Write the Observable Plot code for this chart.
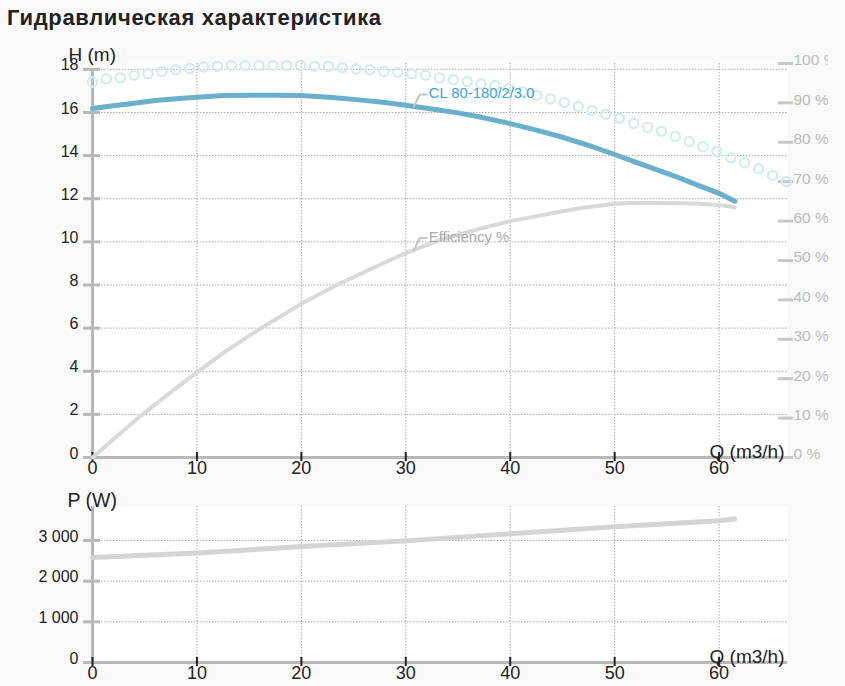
<!DOCTYPE html>
<html>
<head>
<meta charset="utf-8">
<script src="https://cdn.jsdelivr.net/npm/d3@7"></script>
<script src="https://cdn.jsdelivr.net/npm/@observablehq/plot@0.6"></script>
<style>
  html, body { margin: 0; padding: 0; background: #f9f9f9; }
  #wrap { position: relative; width: 845px; height: 686px; overflow: hidden; font-family: "Liberation Sans", Arial, sans-serif; }
  #title { position: absolute; left: 7px; top: 7px; font-size: 22px; line-height: 22px; letter-spacing: 0.65px; font-weight: bold; color: #222; white-space: nowrap; }
  #top { position: absolute; left: 0; top: 30px; }
  #bottom { position: absolute; left: 0; top: 485px; }
</style>
</head>
<body>
<div id="wrap">
  <div id="title">Гидравлическая характеристика</div>
  <div id="top"></div>
  <div id="bottom"></div>
</div>
<script>
// ---- Data ----
// Pump head curve (H, m) vs flow (Q, m3/h)
const headQ = [0, 2, 4, 6, 8, 10, 12.5, 15, 18, 20, 23, 26, 28, 30, 33, 35, 37, 40, 42.5, 45, 47.5, 50, 52, 54, 56, 58, 60, 61.5];
const headH = [16.18, 16.31, 16.43, 16.55, 16.64, 16.71, 16.79, 16.80, 16.80, 16.79, 16.69, 16.56, 16.46, 16.33, 16.13, 15.98, 15.80, 15.48, 15.18, 14.85, 14.47, 14.05, 13.70, 13.35, 13.00, 12.62, 12.25, 11.88];

// Efficiency curve (%)
const effQ = [0, 3, 5, 8, 10, 12.5, 16, 20, 23.5, 27, 30, 33.5, 37, 40, 45, 47, 50, 52, 54, 56.5, 58, 60, 61.5];
const effPct = [0, 6.9, 11.4, 17.6, 21.6, 26.5, 32.6, 39.0, 43.9, 48.3, 51.9, 55.4, 58.0, 60.0, 62.5, 63.4, 64.4, 64.6, 64.6, 64.5, 64.4, 64.1, 63.5];

// Dotted (circle) curve, % scale
const dotQ = [0, 1.33, 2.66, 3.99, 5.31, 6.64, 7.97, 9.30, 10.63, 11.96, 13.29, 14.62, 15.94, 17.27, 18.60, 19.93, 21.26, 22.59, 23.92, 25.25, 26.57, 27.90, 29.23, 30.56, 31.89, 33.22, 34.55, 35.88, 37.20, 38.53, 39.86, 41.19, 42.52, 43.85, 45.18, 46.51, 47.83, 49.16, 50.49, 51.82, 53.15, 54.48, 55.81, 57.14, 58.46, 59.79, 61.12, 62.45, 63.78, 65.11, 66.44];
const dotPct = [95.3, 96.1, 96.4, 97.0, 97.4, 98.0, 98.4, 98.7, 99.1, 99.3, 99.5, 99.5, 99.5, 99.5, 99.5, 99.5, 99.3, 99.3, 98.9, 98.6, 98.4, 98.0, 97.8, 97.4, 97.0, 96.4, 95.9, 95.4, 94.8, 94.4, 93.7, 92.8, 91.9, 91.0, 90.1, 89.1, 88.1, 87.1, 86.1, 84.8, 83.8, 82.8, 81.5, 80.2, 78.9, 77.7, 76.1, 74.8, 73.3, 71.6, 70.0];

// Power curve (P, W)
const powQ = [0, 10, 20, 30, 40, 50, 60, 61.5];
const powW = [2580, 2690, 2850, 2990, 3165, 3335, 3485, 3525];

// Ticks and labels
const qTicks = [0, 10, 20, 30, 40, 50, 60];
const hTicks = [0, 2, 4, 6, 8, 10, 12, 14, 16, 18];
const pctTicks = [0, 10, 20, 30, 40, 50, 60, 70, 80, 90, 100];
const pTicks = [0, 1000, 2000, 3000];
const pTickLabels = ["0", "1 000", "2 000", "3 000"];

const seriesName = "CL 80-180/2/3.0";
const effName = "Efficiency %";

// ---- Scales ----
const Q_MAX = 66.55, H_MAX = 18.27, P_MAX = 3835;
const toH = p => p / 100 * H_MAX;

const headData = headQ.map((q, i) => ({q, v: headH[i]}));
const effData = effQ.map((q, i) => ({q, v: toH(effPct[i])}));
const dotData = dotQ.map((q, i) => ({q, v: toH(dotPct[i])}));
const powData = powQ.map((q, i) => ({q, v: powW[i]}));

const FONT = "'Liberation Sans', Arial, sans-serif";
const axisGray = "#b8b8b8";
const gridGray = "#a8a8a8";
const blue = "#6ab0cd";
const dotBlue = "#d3eaf5";
const labelBlue = "#3ba3d6";

// Top chart geometry (used only to convert leader-line pixel offsets)
const topW = 828, topML = 92, topMR = 41, topH = 455, topMT = 33, topMB = 28;
const pxPerQ = (topW - topML - topMR) / Q_MAX;
const pxPerH = (topH - topMT - topMB) / H_MAX;

const anchorQ = 30.77;
const interp = (xs, ys, x) => {
  for (let i = 1; i < xs.length; i++) if (x <= xs[i]) {
    const t = (x - xs[i-1]) / (xs[i] - xs[i-1]);
    return ys[i-1] + t * (ys[i] - ys[i-1]);
  }
  return ys[ys.length - 1];
};
const leader = (q0, v0) => [
  {q: q0, v: v0},
  {q: q0 + 6 / pxPerQ, v: v0 + 12 / pxPerH},
  {q: q0 + 13 / pxPerQ, v: v0 + 12 / pxPerH}
];
const hAnchor = interp(headQ, headH, anchorQ);
const eAnchor = toH(interp(effQ, effPct, anchorQ));

const topPlot = Plot.plot({
  width: topW, height: topH,
  marginLeft: topML, marginRight: topMR, marginTop: topMT, marginBottom: topMB,
  x: {domain: [0, Q_MAX], axis: null, label: null},
  y: {domain: [0, H_MAX], axis: null, label: null},
  style: {background: "transparent", fontFamily: FONT, overflow: "hidden"},
  marks: [
    Plot.frame({fill: "white", stroke: "none"}),
    Plot.ruleX(qTicks.slice(1), {stroke: gridGray, strokeDasharray: "1.5,1.5", strokeWidth: 1}),
    Plot.ruleY(hTicks.slice(1), {stroke: gridGray, strokeDasharray: "1.5,1.5", strokeWidth: 1}),
    Plot.ruleX([0], {y1: 0, y2: 18, stroke: axisGray, strokeWidth: 3}),
    Plot.ruleY([0], {stroke: axisGray, strokeWidth: 3}),
    // left axis
    Plot.axisY(hTicks, {anchor: "left", label: null, tickSize: 17, dx: 8, stroke: axisGray, strokeWidth: 3, fill: "none"}),
    Plot.axisY(hTicks, {anchor: "left", label: null, tickSize: 0, tickPadding: 14, dy: -4, fill: "#222", fontSize: 16}),
    // right % axis
    Plot.axisY(pctTicks.map(toH), {anchor: "right", label: null, tickSize: 15, dx: -10, stroke: "#c8c8c8", strokeWidth: 3, fill: "none"}),
    Plot.axisY(pctTicks.map(toH), {anchor: "right", label: null, tickSize: 0, tickPadding: 6, dy: -3, fill: "#bbbbbb", fontSize: 15.5,
      tickFormat: d => Math.round(d / H_MAX * 100) + " %"}),
    // x axis
    Plot.axisX(qTicks, {anchor: "bottom", label: null, tickSize: 9, dy: -5, stroke: "#222", strokeWidth: 2, fill: "none"}),
    Plot.axisX(qTicks, {anchor: "bottom", label: null, tickSize: 0, tickPadding: 4, fill: "#222", fontSize: 18}),
    // curves
    Plot.dot(dotData, {x: "q", y: "v", r: 4.6, stroke: dotBlue, strokeWidth: 2.2, fill: "none"}),
    Plot.line(effData, {x: "q", y: "v", stroke: "#d9d9d9", strokeWidth: 4}),
    Plot.line(headData, {x: "q", y: "v", stroke: blue, strokeWidth: 5}),
    // labels
    Plot.line(leader(anchorQ, hAnchor), {x: "q", y: "v", stroke: "#c4c4c4", strokeWidth: 2}),
    Plot.line(leader(anchorQ, eAnchor), {x: "q", y: "v", stroke: "#c4c4c4", strokeWidth: 2}),
    Plot.text([seriesName], {x: anchorQ, y: hAnchor, dx: 15, dy: -13, text: d => d, textAnchor: "start", fill: labelBlue, fontSize: 14.8}),
    Plot.text([effName], {x: anchorQ, y: eAnchor, dx: 15, dy: -13, text: d => d, textAnchor: "start", fill: "#aaaaaa", fontSize: 14.8}),
    // axis titles
    Plot.text(["H (m)"], {frameAnchor: "top-left", dx: -24, dy: -3, text: d => d, textAnchor: "start", lineAnchor: "bottom", fill: "#222", fontSize: 19}),
    Plot.text(["Q (m3/h)"], {frameAnchor: "bottom-right", dx: -3, dy: 0, text: d => d, textAnchor: "end", lineAnchor: "bottom", fill: "#222", fontSize: 19})
  ]
});
document.getElementById("top").appendChild(topPlot);

const bottomPlot = Plot.plot({
  width: 845, height: 201,
  marginLeft: 92, marginRight: 58, marginTop: 21, marginBottom: 24,
  x: {domain: [0, Q_MAX], axis: null, label: null},
  y: {domain: [0, P_MAX], axis: null, label: null},
  style: {background: "transparent", fontFamily: FONT, overflow: "visible"},
  marks: [
    Plot.frame({fill: "white", stroke: "none"}),
    Plot.ruleX(qTicks.slice(1), {stroke: gridGray, strokeDasharray: "1.5,1.5", strokeWidth: 1}),
    Plot.ruleY(pTicks.slice(1), {stroke: gridGray, strokeDasharray: "1.5,1.5", strokeWidth: 1}),
    Plot.ruleX([0], {stroke: axisGray, strokeWidth: 3}),
    Plot.ruleY([0], {stroke: axisGray, strokeWidth: 3}),
    Plot.axisY(pTicks, {anchor: "left", label: null, tickSize: 17, dx: 8, stroke: axisGray, strokeWidth: 3, fill: "none"}),
    Plot.axisY(pTicks, {anchor: "left", label: null, tickSize: 0, tickPadding: 14, dy: -4, fill: "#222", fontSize: 16,
      tickFormat: d => pTickLabels[pTicks.indexOf(d)]}),
    Plot.axisX(qTicks, {anchor: "bottom", label: null, tickSize: 9, dy: -5, stroke: "#222", strokeWidth: 2, fill: "none"}),
    Plot.axisX(qTicks, {anchor: "bottom", label: null, tickSize: 0, tickPadding: 4, fill: "#222", fontSize: 18}),
    Plot.line(powData, {x: "q", y: "v", stroke: "#d4d4d4", strokeWidth: 5}),
    Plot.text(["P (W)"], {frameAnchor: "top-left", dx: -25, dy: 0, text: d => d, textAnchor: "start", lineAnchor: "bottom", fill: "#222", fontSize: 19.5}),
    Plot.text(["Q (m3/h)"], {frameAnchor: "bottom-right", dx: -3, dy: 0, text: d => d, textAnchor: "end", lineAnchor: "bottom", fill: "#222", fontSize: 19})
  ]
});
document.getElementById("bottom").appendChild(bottomPlot);
</script>
</body>
</html>
